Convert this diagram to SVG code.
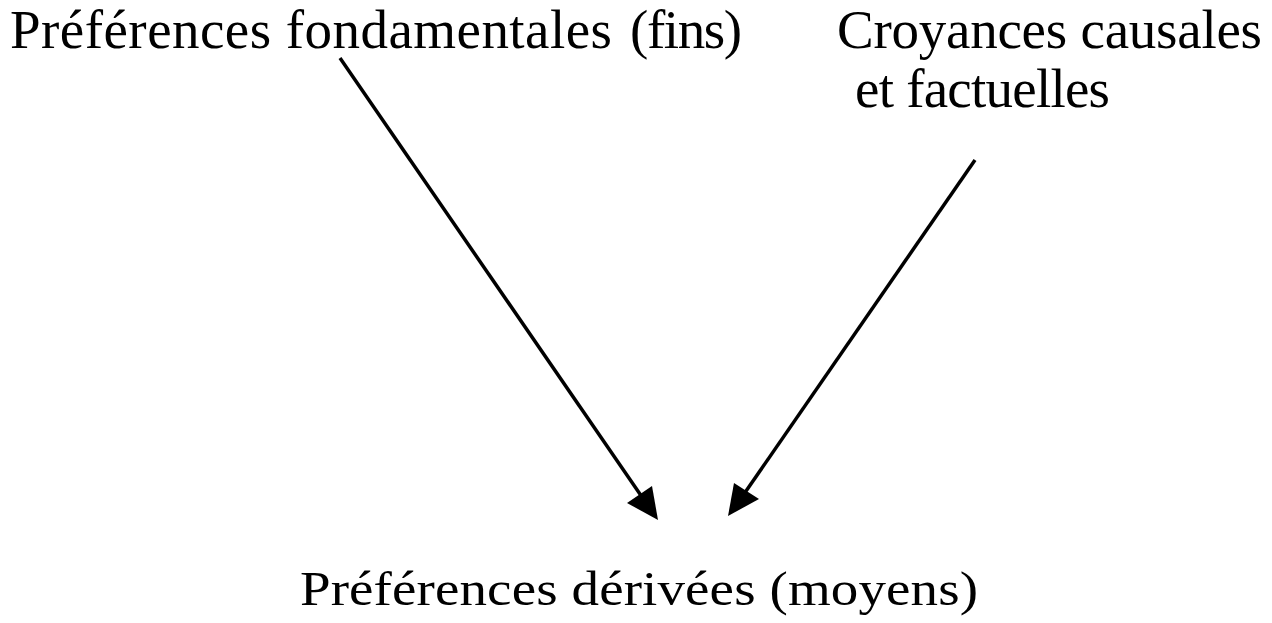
<svg xmlns="http://www.w3.org/2000/svg" width="1272" height="623" viewBox="0 0 1272 623">
  <style>
    .lbl { font-family: 'Liberation Serif', Tinos, 'Times New Roman', 'DejaVu Serif', serif; font-size: 55px; fill: #000; }
    .edge { stroke: #000; stroke-width: 3.5; fill: none; }
    .head { fill: #000; stroke: none; }
  </style>
  <rect width="1272" height="623" fill="#fff"/>
  <g id="fins">
    <text class="lbl" x="10" y="48"><tspan textLength="602" lengthAdjust="spacing">Préférences fondamentales</tspan><tspan x="630" textLength="112" lengthAdjust="spacing">(fins)</tspan></text>
  </g>
  <g id="croyances">
    <text class="lbl" x="837" y="48" textLength="425" lengthAdjust="spacing">Croyances causales</text>
    <text class="lbl" x="855" y="107" textLength="255" lengthAdjust="spacing">et factuelles</text>
  </g>
  <g id="moyens">
    <!-- caption drawn slightly flattened -->
    <text class="lbl" transform="translate(300,605) scale(1,0.88)" x="0" y="0" textLength="678" lengthAdjust="spacing">Préférences dérivées (moyens)</text>
  </g>
  <g id="connectors">
    <line class="edge" x1="340" y1="58" x2="642" y2="497"/>
    <polygon class="head" points="658,520 627,503 652,486"/>
    <line class="edge" x1="975" y1="160" x2="744" y2="494"/>
    <polygon class="head" points="728,516 734,483 759,499"/>
  </g>
</svg>
